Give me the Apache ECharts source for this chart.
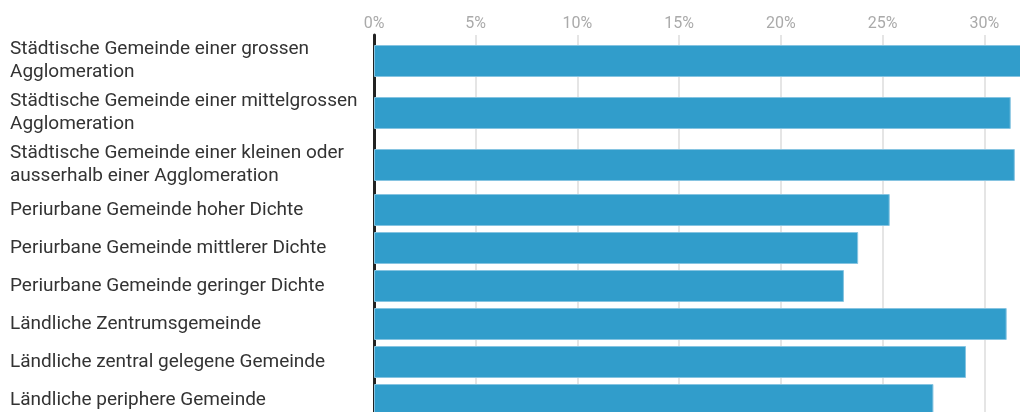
<!DOCTYPE html>
<html>
<head>
<meta charset="utf-8">
<script src="https://cdn.jsdelivr.net/npm/echarts@6/dist/echarts.min.js"></script>
<style>
  html, body { margin: 0; padding: 0; background: #fff; }
  #chart { width: 1020px; height: 412px; }
</style>
</head>
<body>
<div id="chart"></div>
<script>
// Gemeindetypen (die ersten drei mit zweizeiliger Beschriftung)
const categories = [
  'Städtische Gemeinde einer grossen\nAgglomeration',
  'Städtische Gemeinde einer mittelgrossen\nAgglomeration',
  'Städtische Gemeinde einer kleinen oder\nausserhalb einer Agglomeration',
  'Periurbane Gemeinde hoher Dichte',
  'Periurbane Gemeinde mittlerer Dichte',
  'Periurbane Gemeinde geringer Dichte',
  'Ländliche Zentrumsgemeinde',
  'Ländliche zentral gelegene Gemeinde',
  'Ländliche periphere Gemeinde'
];
// Anteil in %
const values = [32.1, 31.3, 31.5, 25.35, 23.8, 23.1, 31.1, 29.1, 27.5];
const tickStep = 5;

const font = 'Roboto, sans-serif';
const barColor = '#319dcb';

const chart = echarts.init(document.getElementById('chart'));

const xAxisBase = {
  type: 'value',
  min: 0,
  max: 35,
  interval: tickStep,
  axisLine: { show: false },
  axisTick: { show: false },
  splitLine: { show: true, lineStyle: { color: '#dcdcdc', width: 1.5 } }
};

const yAxisBase = {
  type: 'category',
  inverse: true,
  axisTick: { show: false },
  axisLine: { show: true, lineStyle: { color: '#222', width: 3 } },
  axisLabel: {
    align: 'left',
    margin: 364,
    fontSize: 19,
    lineHeight: 23,
    color: '#333',
    fontFamily: font
  }
};

const barBase = {
  type: 'bar',
  barWidth: 32,
  itemStyle: { color: barColor, borderColor: '#86c4e1', borderWidth: 1 },
  silent: true
};

const gridBase = { left: 374, width: 712, containLabel: false, outerBoundsMode: 'none' };

chart.setOption({
  animation: false,
  grid: [
    Object.assign({}, gridBase, { top: 35, height: 156 }),
    Object.assign({}, gridBase, { top: 191, height: 228 })
  ],
  xAxis: [
    Object.assign({}, xAxisBase, {
      gridIndex: 0,
      position: 'top',
      axisLabel: {
        formatter: '{value}%',
        color: '#aaa',
        fontSize: 16,
        fontFamily: font,
        margin: 3
      }
    }),
    Object.assign({}, xAxisBase, {
      gridIndex: 1,
      axisLabel: { show: false }
    })
  ],
  yAxis: [
    Object.assign({}, yAxisBase, { gridIndex: 0, data: categories.slice(0, 3) }),
    Object.assign({}, yAxisBase, { gridIndex: 1, data: categories.slice(3) })
  ],
  series: [
    Object.assign({}, barBase, { xAxisIndex: 0, yAxisIndex: 0, data: values.slice(0, 3) }),
    Object.assign({}, barBase, { xAxisIndex: 1, yAxisIndex: 1, data: values.slice(3) })
  ]
});
</script>
</body>
</html>
